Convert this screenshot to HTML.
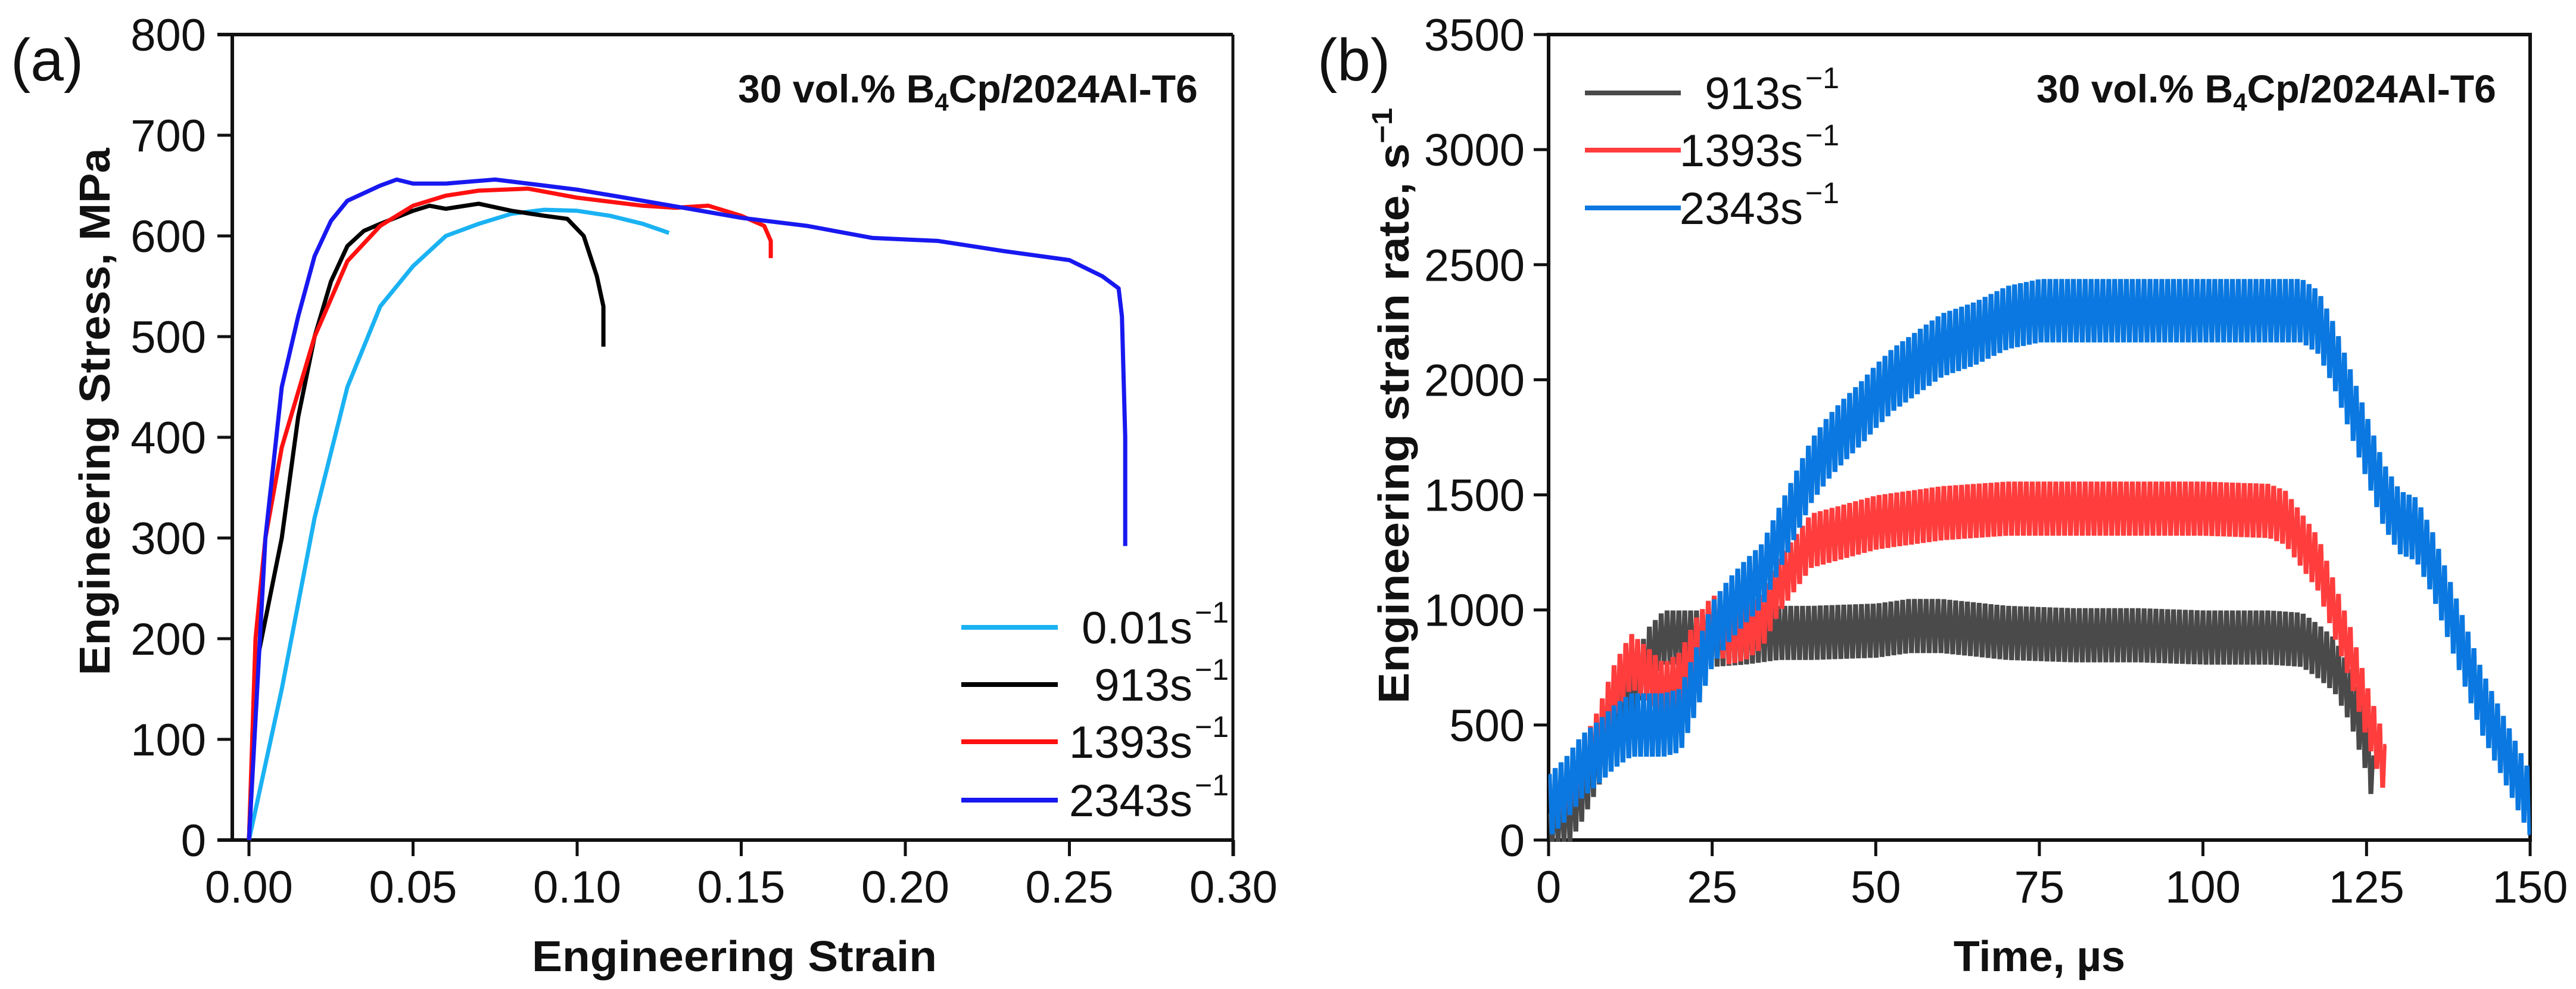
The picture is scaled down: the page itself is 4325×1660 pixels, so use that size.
<!DOCTYPE html>
<html><head><meta charset="utf-8"><style>
html,body{margin:0;padding:0;background:#fff}
svg{display:block}
text{font-family:"Liberation Sans",Arial,sans-serif;fill:#111}
</style></head><body>
<svg id="fig" width="4325" height="1660" viewBox="0 0 4325 1660" xmlns="http://www.w3.org/2000/svg">
<g id="pa"></g>
<g id="pb"></g>
</svg>
<script>
// ---------- Panel (a) data ----------
const aXTicks=[0,0.05,0.10,0.15,0.20,0.25,0.30];
const aXTickLabels=["0.00","0.05","0.10","0.15","0.20","0.25","0.30"];
const aYTicks=[0,100,200,300,400,500,600,700,800];
const aSeriesNames=["0.01","913","1393","2343"];
const strain001=[0,0.01,0.02,0.03,0.04,0.05,0.06,0.07,0.08,0.09,0.10,0.11,0.12,0.128];
const stress001=[0,150,320,450,530,570,600,612,622,626,625,620,612,603];
const strain913=[0,0.002,0.01,0.015,0.02,0.025,0.03,0.035,0.04,0.05,0.055,0.06,0.07,0.08,0.09,0.097,0.102,0.106,0.108,0.108];
const stress913=[0,170,300,420,500,555,590,605,612,625,630,627,632,625,620,617,600,560,530,490];
const strain1393=[0,0.002,0.005,0.01,0.02,0.03,0.04,0.05,0.06,0.07,0.085,0.10,0.12,0.13,0.14,0.15,0.157,0.159,0.159];
const stress1393=[0,200,300,390,500,575,610,630,640,645,647,638,630,628,630,620,610,595,578];
const strain2343=[0,0.005,0.01,0.015,0.02,0.025,0.03,0.04,0.045,0.05,0.06,0.075,0.09,0.10,0.12,0.15,0.17,0.19,0.21,0.23,0.25,0.26,0.265,0.266,0.267,0.267];
const stress2343=[0,300,450,520,580,615,635,650,656,652,652,656,650,646,635,618,610,598,595,585,576,560,548,520,400,292];

// ---------- Panel (b) data ----------
const bXTicks=[0,25,50,75,100,125,150];
const bYTicks=[0,500,1000,1500,2000,2500,3000,3500];
const bSeriesNames=["913","1393","2343"];
const time913=[0,2.5,5,7.5,10,12.5,15,17.5,20,22.5,25,30,35,40,50,55,60,70,80,90,100,110,115,117.5,120,122.5,125,126];
const rate913=[0,80,200,350,500,620,800,880,880,880,870,880,900,900,910,930,930,900,890,890,880,880,870,820,760,620,400,250];
const time1393=[0,2.5,5,7.5,10,12.5,15,17.5,20,22.5,25,27.5,30,32.5,35,37.5,40,45,50,60,70,80,90,100,110,112.5,115,117.5,120,122.5,125,127,128];
const rate1393=[150,200,300,450,650,780,720,650,700,850,950,880,900,950,1100,1200,1300,1340,1380,1420,1440,1440,1440,1440,1430,1400,1300,1200,1000,800,550,380,280];
const time2343=[0,2.5,5,7.5,10,12.5,15,17.5,20,22.5,25,27.5,30,32.5,35,37.5,40,42.5,45,47.5,50,52.5,55,57.5,60,65,70,75,80,90,100,110,115,117.5,120,122.5,125,127.5,130,132.5,135,137.5,140,142.5,145,147.5,150];
const rate2343=[150,220,320,380,450,500,500,500,520,700,900,1000,1080,1150,1300,1450,1600,1700,1780,1850,1930,2000,2050,2100,2150,2200,2270,2300,2300,2300,2300,2300,2300,2250,2100,1900,1700,1500,1380,1350,1200,1000,800,600,450,300,150];
const noiseAmp=[110,110,130];

const NS="http://www.w3.org/2000/svg";
function mk(tag,attrs,parent,txt){const e=document.createElementNS(NS,tag);for(const k in attrs)e.setAttribute(k,attrs[k]);if(txt!==undefined)e.textContent=txt;parent.appendChild(e);return e;}

// ---------- Panel (a) ----------
const pa=document.getElementById('pa');
const ax=v=>418+v/0.05*275.5;
const ay=v=>1410-v/800*1352;
let e;
e=mk('line',{x1:365,y1:58,x2:2070,y2:58,stroke:'#111','stroke-width':6},pa);

e=mk('line',{x1:365,y1:1410,x2:2070,y2:1410,stroke:'#111','stroke-width':6},pa);

e=mk('line',{x1:390,y1:58,x2:390,y2:1410,stroke:'#111','stroke-width':6},pa);

e=mk('line',{x1:2070,y1:58,x2:2070,y2:1437,stroke:'#111','stroke-width':5},pa);

aXTicks.forEach((v,i)=>{
  const t=mk('line',{x1:ax(v),y1:1410,x2:ax(v),y2:1437,stroke:'#111','stroke-width':5},pa);
  
  const l=mk('text',{x:ax(v),y:1515,'font-size':76,'text-anchor':'middle'},pa,aXTickLabels[i]);
  
});
aYTicks.forEach(v=>{
  const t=mk('line',{x1:365,y1:ay(v),x2:390,y2:ay(v),stroke:'#111','stroke-width':5},pa);
  
  const l=mk('text',{x:346,y:ay(v)+27,'font-size':76,'text-anchor':'end'},pa,String(v));
  
});
const aData=[[strain001,stress001,'#1ab2f2'],[strain913,stress913,'#000'],[strain1393,stress1393,'#ff1010'],[strain2343,stress2343,'#1818f0']];
aData.forEach((d,i)=>{
  const pts=d[0].map((x,j)=>ax(x).toFixed(1)+','+ay(d[1][j]).toFixed(1)).join(' ');
  const p=mk('polyline',{points:pts,fill:'none',stroke:d[2],'stroke-width':7,'stroke-linejoin':'round'},pa);
  
});
const aLegY=[1053,1149,1245,1343];
aData.forEach((d,i)=>{
  const ln=mk('line',{x1:1614,y1:aLegY[i],x2:1776,y2:aLegY[i],stroke:d[2],'stroke-width':8},pa);
  
  const t=mk('text',{x:2002,y:aLegY[i]+27,'font-size':76,'text-anchor':'end'},pa,aSeriesNames[i]+'s');
  
  const s=mk('text',{x:2006,y:aLegY[i]-8,'font-size':50},pa,'\u22121');
  
});
e=mk('text',{x:1625,y:172,'font-size':66,'font-weight':'bold','text-anchor':'middle'},pa);

e.innerHTML='30 vol.% B<tspan font-size="42" dy="14">4</tspan><tspan dy="-14">Cp/2024Al-T6</tspan>';
e=mk('text',{x:1233,y:1630,'font-size':72,'font-weight':'bold','text-anchor':'middle',textLength:680,lengthAdjust:'spacingAndGlyphs'},pa,'Engineering Strain');

e=mk('text',{x:0,y:0,'font-size':72,'font-weight':'bold','text-anchor':'middle',transform:'translate(184,691) rotate(-90)',textLength:885,lengthAdjust:'spacingAndGlyphs'},pa,'Engineering Stress, MPa');

e=mk('text',{x:18,y:135,'font-size':100},pa,'(a)');


// ---------- Panel (b) ----------
const pb=document.getElementById('pb');
const bx=v=>2600+v/150*1648;
const by=v=>1410-v/3500*1352;
e=mk('rect',{x:2600,y:58,width:1648,height:1352,fill:'none',stroke:'#111','stroke-width':6},pb);

bXTicks.forEach(v=>{
  const t=mk('line',{x1:bx(v),y1:1410,x2:bx(v),y2:1437,stroke:'#111','stroke-width':5},pb);
  
  const l=mk('text',{x:bx(v),y:1515,'font-size':76,'text-anchor':'middle'},pb,String(v));
  
});
bYTicks.forEach(v=>{
  const t=mk('line',{x1:2575,y1:by(v),x2:2600,y2:by(v),stroke:'#111','stroke-width':5},pb);
  
  const l=mk('text',{x:2560,y:by(v)+27,'font-size':76,'text-anchor':'end'},pb,String(v));
  
});
function interp(ts,vs,t){if(t<=ts[0])return vs[0];for(let k=1;k<ts.length;k++){if(t<=ts[k]){const f=(t-ts[k-1])/(ts[k]-ts[k-1]);return vs[k-1]+f*(vs[k]-vs[k-1]);}}return vs[vs.length-1];}
const bData=[[time913,rate913,'#4a4a4a'],[time1393,rate1393,'#ff3d3d'],[time2343,rate2343,'#0a78e0']];
bData.forEach((d,i)=>{
  const ts=d[0],vs=d[1],amp=noiseAmp[i];
  const pts=[];let s=1;
  for(let t=ts[0];t<=ts[ts.length-1]+1e-6;t+=0.45){
    const m=interp(ts,vs,t);
    pts.push(bx(t).toFixed(1)+','+by(Math.max(0,m+s*amp)).toFixed(1));
    pts.push(bx(t+0.22).toFixed(1)+','+by(Math.max(0,m+s*amp)).toFixed(1));
    s=-s;
  }
  const p=mk('polyline',{points:pts.join(' '),fill:'none',stroke:d[2],'stroke-width':6},pb);
  
});
const bLegY=[156,252,349];
bData.forEach((d,i)=>{
  const ln=mk('line',{x1:2661,y1:bLegY[i],x2:2822,y2:bLegY[i],stroke:d[2],'stroke-width':8},pb);
  
  const t=mk('text',{x:3027,y:bLegY[i]+27,'font-size':76,'text-anchor':'end'},pb,bSeriesNames[i]+'s');
  
  const s=mk('text',{x:3031,y:bLegY[i]-8,'font-size':50},pb,'\u22121');
  
});
e=mk('text',{x:3805,y:172,'font-size':66,'font-weight':'bold','text-anchor':'middle'},pb);

e.innerHTML='30 vol.% B<tspan font-size="42" dy="14">4</tspan><tspan dy="-14">Cp/2024Al-T6</tspan>';
e=mk('text',{x:3424,y:1630,'font-size':72,'font-weight':'bold','text-anchor':'middle'},pb,'Time, \u00b5s');

e=mk('text',{x:0,y:0,'font-size':72,'font-weight':'bold','text-anchor':'middle',transform:'translate(2365,681) rotate(-90)',textLength:1000,lengthAdjust:'spacingAndGlyphs'},pb);

e.innerHTML='Engineering strain rate, s<tspan font-size="48" dy="-28">\u22121</tspan>';
e=mk('text',{x:2212,y:135,'font-size':100},pb,'(b)');

</script>
</body></html>
